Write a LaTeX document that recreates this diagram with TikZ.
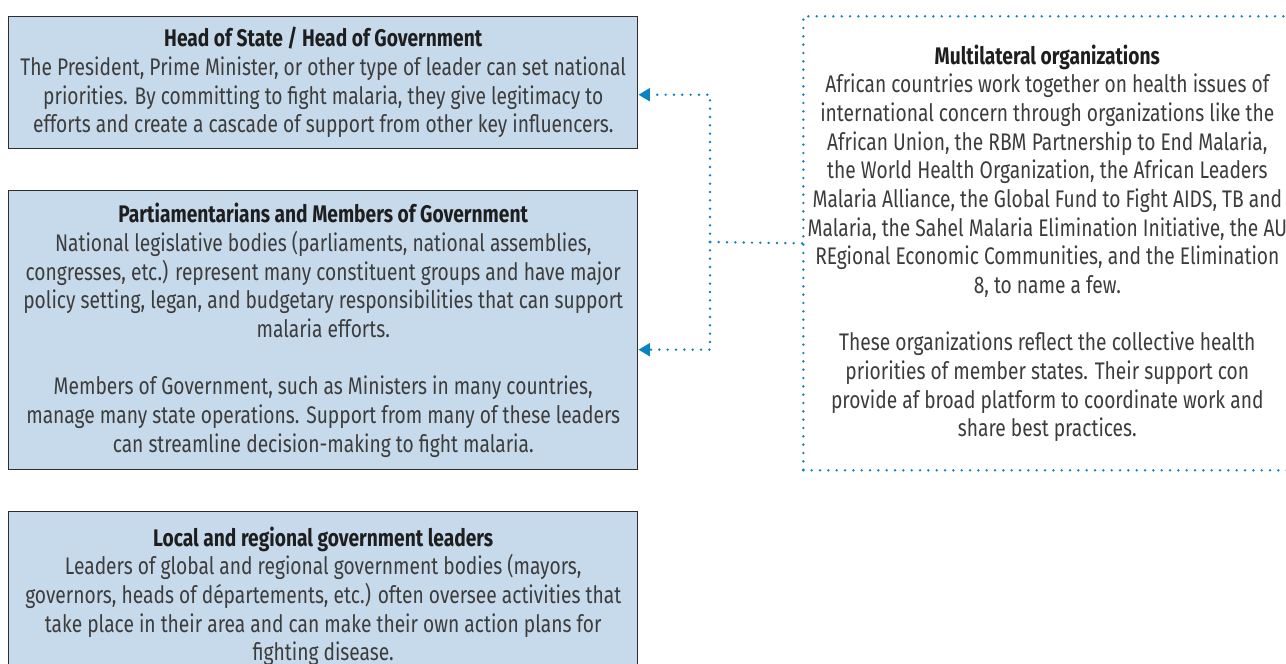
\documentclass[tikz,border=0pt]{standalone}
\usepackage{fontspec}
\setmainfont[FakeStretch=0.8]{Fira Sans}
\usetikzlibrary{arrows.meta}
\definecolor{boxfill}{RGB}{199,218,235}
\definecolor{boxline}{RGB}{45,45,45}
\definecolor{dotblue}{RGB}{10,130,195}
\definecolor{bodytext}{RGB}{60,60,60}
\definecolor{titletext}{RGB}{30,30,30}
\newcommand{\ttl}[1]{{\color{titletext}\bfseries #1}}
\tikzset{
  x=0.75pt, y=-0.75pt,
  txt/.style={font=\fontsize{18pt}{21.5pt}\selectfont, text=bodytext, align=center, inner sep=0pt},
  bluebox/.style={txt, draw=boxline, line width=1.1pt, fill=boxfill, anchor=north west, minimum width=471.75pt},
  dotbox/.style={txt, draw=dotblue, line width=2pt, line cap=round, dash pattern=on 0pt off 6.25pt, anchor=north west, minimum width=366pt},
  dotline/.style={draw=dotblue, line width=2pt, line cap=round, dash pattern=on 0pt off 6.25pt},
  tip/.style={-{Triangle[length=8.5pt,width=9.5pt]}}
}
\begin{document}
\begin{tikzpicture}
\useasboundingbox (0,0) rectangle (1286,664);
\node[bluebox, minimum height=99pt] (hos) at (8,16) {\ttl{Head of State / Head of Government}\\
The President, Prime Minister, or other type of leader can set national\\
priorities. By committing to fight malaria, they give legitimacy to\\
efforts and create a cascade of support from other key influencers.};
\node[bluebox, minimum height=209.25pt] (parl) at (8,190) {\ttl{Partiamentarians and Members of Government}\\
National legislative bodies (parliaments, national assemblies,\\
congresses, etc.) represent many constituent groups and have major\\
policy setting, legan, and budgetary responsibilities that can support\\
malaria efforts.\\[21.5pt]
Members of Government, such as Ministers in many countries,\\
manage many state operations. Support from many of these leaders\\
can streamline decision-making to fight malaria.};
\node[bluebox, minimum height=126.75pt] (local) at (8,511) {\ttl{Local and regional government leaders}\\
Leaders of global and regional government bodies (mayors,\\
governors, heads of départements, etc.) often oversee activities that\\
take place in their area and can make their own action plans for\\
fighting disease.};
\node[dotbox, minimum height=340.5pt] (multi) at (802,15) {\ttl{Multilateral organizations}\\
African countries work together on health issues of\\
international concern through organizations like the\\
African Union, the RBM Partnership to End Malaria,\\
the World Health Organization, the African Leaders\\
Malaria Alliance, the Global Fund to Fight AIDS, TB and\\
Malaria, the Sahel Malaria Elimination Initiative, the AU\\
REgional Economic Communities, and the Elimination\\
8, to name a few.\\[21.5pt]
These organizations reflect the collective health\\
priorities of member states. Their support con\\
provide af broad platform to coordinate work and\\
share best practices.};
\coordinate (j) at (710,242);
\draw[dotline] (multi.west) -- (j);
\draw[dotline, tip] (j) |- ([yshift=-9pt]hos.east);
\draw[dotline, tip] (j) |- ([yshift=-14.6pt]parl.east);
\end{tikzpicture}
\end{document}
